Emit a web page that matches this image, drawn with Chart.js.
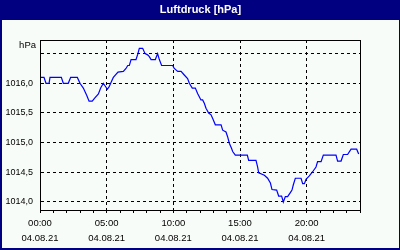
<!DOCTYPE html>
<html><head><meta charset="utf-8">
<script src="https://cdn.jsdelivr.net/npm/chart.js@4"></script>
<style>html,body{margin:0;padding:0;background:#000080;}canvas{display:block;}</style>
</head><body>
<canvas id="c" width="400" height="250"></canvas>
<script>
// ---- data ----
const chartTitle = 'Luftdruck [hPa]';
const yUnit = 'hPa';
const hours = [0,0.3,0.45,0.68,0.75,1.6,1.75,2.12,2.3,2.8,
  3.0,3.25,3.5,3.68,3.92,4.1,4.38,4.55,4.75,4.9,
  5.05,5.18,5.3,5.5,5.85,6.25,6.45,6.58,6.7,6.83,
  7.2,7.33,7.45,7.7,7.88,8.07,8.2,8.33,8.65,8.82,
  8.95,9.12,9.95,10.07,10.33,10.58,10.82,11.07,11.2,11.42,
  11.65,11.82,12.07,12.2,12.33,12.45,12.65,12.83,13.0,13.15,
  13.58,13.7,13.95,14.07,14.2,14.37,14.45,14.65,15.55,15.65,
  16.2,16.32,16.4,16.83,17.07,17.28,17.4,17.75,17.9,18.12,
  18.25,18.4,18.57,18.75,18.9,19.0,19.15,19.58,19.7,19.83,
  19.95,20.2,20.45,20.7,20.82,21.08,21.25,22.2,22.32,22.58,
  22.75,23.07,23.33,23.75,23.9];
const pressure = [1016.1,1016.1,1016.0,1016.0,1016.1,1016.1,1016.0,1016.0,1016.1,1016.1,
  1016.0,1015.92,1015.8,1015.7,1015.7,1015.75,1015.82,1015.92,1016.0,1015.95,
  1015.9,1015.94,1016.0,1016.1,1016.19,1016.2,1016.25,1016.3,1016.3,1016.4,
  1016.4,1016.49,1016.59,1016.59,1016.5,1016.48,1016.45,1016.4,1016.4,1016.5,
  1016.4,1016.3,1016.3,1016.25,1016.2,1016.2,1016.14,1016.08,1016.0,1015.92,
  1015.92,1015.83,1015.72,1015.72,1015.66,1015.58,1015.5,1015.47,1015.38,1015.3,
  1015.3,1015.21,1015.18,1015.1,1014.99,1014.9,1014.85,1014.79,1014.79,1014.7,
  1014.7,1014.59,1014.49,1014.45,1014.4,1014.32,1014.21,1014.2,1014.1,1014.1,
  1014.0,1014.09,1014.09,1014.15,1014.2,1014.29,1014.4,1014.4,1014.31,1014.31,
  1014.38,1014.44,1014.51,1014.59,1014.68,1014.68,1014.79,1014.79,1014.69,1014.69,
  1014.8,1014.8,1014.89,1014.89,1014.81];
const xTickHours = [0,5,10,15,20];
const xTickTimes = ['00:00','05:00','10:00','15:00','20:00'];
const xTickDate = '04.08.21';
const yTickValues = [1014.0,1014.5,1015.0,1015.5,1016.0,1016.5];
const yTickLabels = ['1014,0','1014,5','1015,0','1015,5','1016,0',''];

// ---- chart ----
Chart.defaults.font.family = '"Liberation Sans", Arial, sans-serif';
Chart.defaults.color = '#000';
const points = hours.map((h, i) => ({x: h, y: pressure[i]}));

const framePlugin = {
  id: 'frame',
  beforeDraw(chart) {
    const c = chart.ctx;
    c.save();
    c.fillStyle = '#000080';
    c.fillRect(0, 0, chart.width, chart.height);
    c.fillStyle = '#f8fcf8';
    c.fillRect(2, 20, chart.width - 3, chart.height - 22);
    c.restore();
  },
  afterDraw(chart) {
    const c = chart.ctx, a = chart.chartArea;
    c.save();
    c.strokeStyle = '#000';
    c.lineWidth = 1;
    c.strokeRect(a.left + 0.5, a.top + 0.5, a.right - a.left, a.bottom - a.top);
    c.fillStyle = '#000';
    c.font = '9.5px "Liberation Sans", Arial, sans-serif';
    c.textAlign = 'right';
    c.textBaseline = 'middle';
    c.fillText(yUnit, a.left - 4, a.top + 5);
    c.restore();
  }
};

new Chart(document.getElementById('c'), {
  type: 'line',
  data: { datasets: [{
    data: points, yAxisID: 'y', xAxisID: 'x',
    borderColor: '#0000ff', borderWidth: 1.2, pointRadius: 0, tension: 0, fill: false
  }]},
  options: {
    responsive: false, animation: false, devicePixelRatio: 1,
    layout: { padding: { left: 2, right: 1, top: 0, bottom: 2 } },
    plugins: {
      legend: { display: false },
      tooltip: { enabled: false },
      title: {
        display: true, text: chartTitle, color: '#ffffff',
        font: { size: 11, weight: 'bold', lineHeight: 1.2 },
        padding: { top: 3, bottom: 23.8 }
      }
    },
    scales: {
      x: {
        type: 'linear', min: 0, max: 24,
        afterFit(s) { s.height = 38; },
        ticks: {
          stepSize: 1, autoSkip: false, maxRotation: 0, minRotation: 0, padding: 3,
          font: { size: 9.5, lineHeight: '15px' }, color: '#000',
          callback(v) { const i = xTickHours.indexOf(v); return i >= 0 ? [xTickTimes[i], xTickDate] : ''; }
        },
        grid: {
          color: (ctx) => (ctx.tick && ctx.tick.value !== 0 && xTickHours.includes(ctx.tick.value)) ? '#000' : 'rgba(0,0,0,0)',
          tickColor: '#000', tickLength: 3, lineWidth: 1
        },
        border: { display: true, color: '#000', dash: [3, 3] }
      },
      y: {
        type: 'linear', position: 'left', min: 1013.865, max: 1016.73,
        afterFit(s) { s.width = 38; },
        afterBuildTicks(s) { s.ticks = yTickValues.map(v => ({ value: v })); },
        ticks: {
          padding: 7, font: { size: 9 }, color: '#000',
          callback(v, i) { return yTickLabels[i]; }
        },
        grid: { color: '#000', drawTicks: false, lineWidth: 1 },
        border: { display: true, color: '#000', dash: [3, 3] }
      },
      yRight: {
        type: 'linear', position: 'right', display: true,
        afterFit(s) { s.width = 39; },
        ticks: { display: false },
        grid: { display: false, drawTicks: false },
        border: { display: false }
      }
    }
  },
  plugins: [framePlugin]
});
</script>
</body></html>
